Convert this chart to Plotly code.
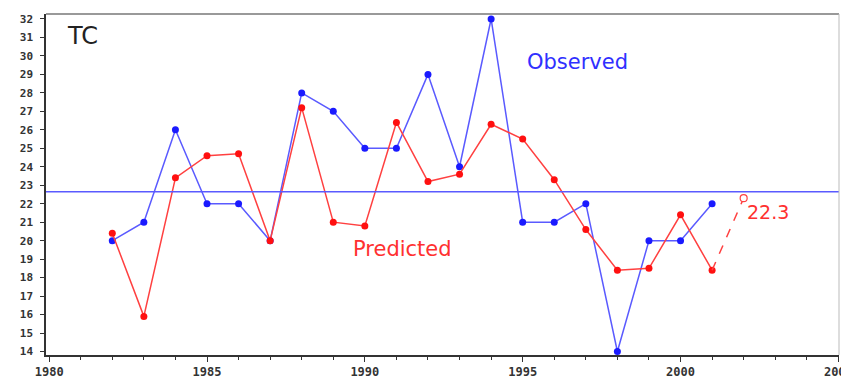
import plotly.graph_objects as go

years = list(range(1982, 2002))
observed = [20, 21, 26, 22, 22, 20, 28, 27, 25, 25, 29, 24, 32, 21, 21, 22, 14, 20, 20, 22]
predicted = [20.4, 15.9, 23.4, 24.6, 24.7, 20.0, 27.2, 21.0, 20.8, 26.4, 23.2, 23.6,
             26.3, 25.5, 23.3, 20.6, 18.4, 18.5, 21.4, 18.4]
forecast_years = [2001, 2002]
forecast_values = [18.4, 22.3]
mean_level = 22.65
x_ticks = [1980, 1985, 1990, 1995, 2000, 2005]
y_ticks = list(range(14, 33))

BLUE_LINE = "#5a5aff"
BLUE_MARK = "#1a1aff"
RED_LINE = "#ff4040"
RED_MARK = "#ff1010"

fig = go.Figure()
fig.add_trace(go.Scatter(x=years, y=observed, mode="lines+markers",
                         line=dict(color=BLUE_LINE, width=1.5),
                         marker=dict(color=BLUE_MARK, size=7)))
fig.add_trace(go.Scatter(x=years, y=predicted, mode="lines+markers",
                         line=dict(color=RED_LINE, width=1.5),
                         marker=dict(color=RED_MARK, size=7)))
fig.add_trace(go.Scatter(x=forecast_years, y=forecast_values, mode="lines",
                         line=dict(color=RED_LINE, width=1.5, dash="dash")))
fig.add_trace(go.Scatter(x=forecast_years[1:], y=forecast_values[1:], mode="markers",
                         marker=dict(color="white", size=7, symbol="circle",
                                     line=dict(color=RED_LINE, width=1.2))))
fig.add_hline(y=mean_level, line=dict(color=BLUE_LINE, width=1.5))

fig.add_annotation(x=0.024, y=0.935, xref="paper", yref="paper", text="TC", showarrow=False,
                   xanchor="left", yanchor="middle", font=dict(size=24, color="#222", family="DejaVu Sans"))
fig.add_annotation(x=1996.75, y=29.69, text="Observed", showarrow=False,
                   font=dict(size=21, color="#3030ff", family="DejaVu Sans"))
fig.add_annotation(x=1991.18, y=19.55, text="Predicted", showarrow=False,
                   font=dict(size=21, color="#ff3030", family="DejaVu Sans"))
fig.add_annotation(x=2002.04, y=21.57, text="22.3", showarrow=False, xanchor="left",
                   font=dict(size=19, color="#ff3030", family="DejaVu Sans"))

fig.update_layout(
    width=841, height=378,
    margin=dict(l=46, r=2, t=14, b=23),
    plot_bgcolor="white", paper_bgcolor="white",
    showlegend=False,
    xaxis=dict(range=[1979.9, 2005.02], tickvals=x_ticks, ticktext=[str(v) for v in x_ticks],
               ticks="outside", ticklen=5, tickcolor="#333", showgrid=False, zeroline=False,
               showline=True, linecolor="#333", linewidth=1.5, mirror=False,
               ticklabeloverflow="allow", automargin=False,
               minor=dict(dtick=1, tick0=1980, ticks="outside", ticklen=3, tickcolor="#333", showgrid=False),
               tickfont=dict(size=12, family="DejaVu Sans Mono", color="#333", weight="bold")),
    yaxis=dict(range=[13.81, 32.27], tickvals=y_ticks, ticks="outside", ticklen=4, tickcolor="#333",
               showgrid=False, zeroline=False, showline=True, linecolor="#333", linewidth=1.5,
               ticklabelstandoff=5, automargin=False,
               tickfont=dict(size=11, family="DejaVu Sans Mono", color="#333", weight="bold")),
)
fig.add_shape(type="line", xref="paper", yref="paper", x0=0, x1=1, y0=1, y1=1,
              line=dict(color="#999", width=2))
fig.add_shape(type="line", xref="paper", yref="paper", x0=1, x1=1, y0=0, y1=1,
              line=dict(color="#bbb", width=1))

fig.write_html("out.html", config={"displayModeBar": False},
               post_script="document.body.style.margin='0';document.body.style.overflow='hidden';")
